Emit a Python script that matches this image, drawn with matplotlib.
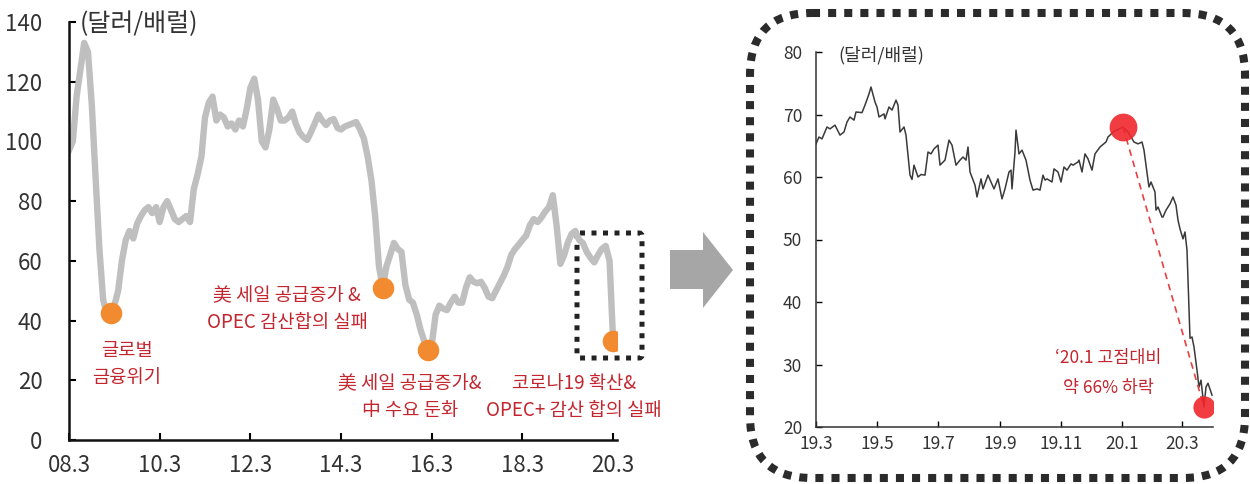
import numpy as np
import pandas as pd
import matplotlib
matplotlib.use('Agg')
import matplotlib.pyplot as plt
from matplotlib.patches import FancyBboxPatch, Polygon

plt.rcParams['font.family'] = ['Noto Sans CJK KR', 'DejaVu Sans']

# monthly crude price 2008.3 ~ 2020.3, 달러/배럴
long_start = '2008-03-01'
long_price = [97, 100, 115, 124, 133, 130, 112, 88, 64, 47,
              42, 42.5, 45, 50, 60, 67, 70, 67.5, 72.5, 75,
              77, 78, 76, 78, 73, 78, 80, 77, 74, 73,
              74, 75, 73, 84, 89, 95, 108, 113, 115, 107,
              109, 108, 105, 106, 104, 107, 105, 111, 118, 121,
              114, 100, 98, 104, 114, 111, 107, 107, 108, 110,
              106, 103, 101.5, 100.5, 103, 106, 109, 107, 105.5, 107,
              107.5, 104.5, 104, 105, 105.5, 106, 106.5, 104, 101, 95,
              87, 75, 58, 51, 58, 62, 66, 64, 63, 52,
              47, 46, 42, 37, 33, 30, 32, 42, 45, 44,
              43.5, 46, 48, 46, 46, 51, 54.5, 53, 52.5, 53,
              51, 48, 47.5, 50, 52.5, 55, 58, 62, 64, 65.5,
              67, 68.5, 72, 74, 73, 74.5, 76.5, 78, 82, 72,
              59, 62, 66, 69, 70, 67, 66, 63, 61, 59.5,
              62, 64, 65, 60, 33]
long_ticks = ['08.3', '10.3', '12.3', '14.3', '16.3', '18.3', '20.3']
event_idx = [11, 83, 95, 144]
event_text = ['글로벌\n금융위기',
              '美 세일 공급증가 &\nOPEC 감산합의 실패',
              '美 세일 공급증가&\n中 수요 둔화',
              '코로나19 확산&\nOPEC+ 감산 합의 실패']

# daily price 2019.3 ~ 2020.3
short_dates = ['2019-03-01', '2019-03-04', '2019-03-07', '2019-03-12', '2019-03-15',
               '2019-03-20', '2019-03-25', '2019-03-29', '2019-04-01', '2019-04-04',
               '2019-04-08', '2019-04-10', '2019-04-16', '2019-04-19', '2019-04-23',
               '2019-04-25', '2019-04-29', '2019-05-01', '2019-05-03', '2019-05-08',
               '2019-05-09', '2019-05-13', '2019-05-16', '2019-05-20', '2019-05-22',
               '2019-05-24', '2019-05-28', '2019-05-30', '2019-06-03', '2019-06-05',
               '2019-06-07', '2019-06-11', '2019-06-14', '2019-06-18', '2019-06-21',
               '2019-06-24', '2019-06-27', '2019-07-01', '2019-07-03', '2019-07-08',
               '2019-07-10', '2019-07-12', '2019-07-15', '2019-07-19', '2019-07-23',
               '2019-07-26', '2019-07-29', '2019-07-31', '2019-08-02', '2019-08-07',
               '2019-08-09', '2019-08-13', '2019-08-15', '2019-08-20', '2019-08-23',
               '2019-08-26', '2019-08-30', '2019-09-03', '2019-09-06', '2019-09-10',
               '2019-09-12', '2019-09-13', '2019-09-16', '2019-09-17', '2019-09-20',
               '2019-09-23', '2019-09-27', '2019-10-01', '2019-10-04', '2019-10-08',
               '2019-10-11', '2019-10-14', '2019-10-16', '2019-10-18', '2019-10-23',
               '2019-10-25', '2019-10-29', '2019-11-01', '2019-11-04', '2019-11-07',
               '2019-11-11', '2019-11-13', '2019-11-18', '2019-11-19', '2019-11-22',
               '2019-11-25', '2019-11-28', '2019-12-02', '2019-12-05', '2019-12-10',
               '2019-12-16', '2019-12-18', '2019-12-24', '2020-01-02', '2020-01-07',
               '2020-01-13', '2020-01-17', '2020-01-21', '2020-01-23', '2020-01-27',
               '2020-01-28', '2020-01-30', '2020-02-03', '2020-02-04', '2020-02-06',
               '2020-02-10', '2020-02-11', '2020-02-14', '2020-02-18', '2020-02-21',
               '2020-02-24', '2020-02-26', '2020-02-28', '2020-03-02', '2020-03-04',
               '2020-03-06', '2020-03-09', '2020-03-11', '2020-03-13', '2020-03-16',
               '2020-03-18', '2020-03-20', '2020-03-23', '2020-03-25', '2020-03-27',
               '2020-03-31']
short_price = [65.3, 66.4, 66.1, 68.0, 67.7, 68.3, 66.7, 67.2, 68.8, 69.6,
               69.1, 70.4, 70.3, 71.5, 73.3, 74.4, 72.0, 71.2, 69.6, 70.1,
               69.3, 71.2, 70.7, 72.3, 71.5, 67.2, 68.0, 66.7, 60.3, 59.6,
               61.9, 60.0, 60.4, 60.3, 64.0, 63.7, 64.5, 65.1, 61.9, 62.7,
               64.3, 65.9, 65.1, 61.9, 62.7, 63.2, 62.7, 64.8, 60.8, 58.7,
               56.8, 59.7, 58.1, 60.3, 59.2, 58.1, 59.7, 56.5, 58.1, 60.8,
               61.1, 58.1, 64.0, 67.5, 63.7, 64.3, 62.7, 59.5, 57.9, 58.1,
               57.9, 60.3, 59.5, 59.7, 59.2, 61.3, 60.8, 59.2, 61.6, 61.1,
               62.1, 61.9, 62.4, 62.7, 60.8, 63.7, 62.9, 61.1, 63.7, 64.8,
               65.6, 66.4, 67.3, 68.0, 67.2, 65.6, 65.3, 65.6, 64.3, 59.5,
               58.4, 59.2, 57.6, 54.7, 55.2, 53.6, 53.6, 54.7, 55.7, 56.8,
               55.5, 53.1, 51.7, 50.1, 51.2, 48.3, 34.2, 34.4, 32.8, 29.1,
               26.4, 27.5, 23.2, 26.4, 27.0, 25.1]
short_ticks = ['19.3', '19.5', '19.7', '19.9', '19.11', '20.1', '20.3']
peak_date = '2020-01-02'
trough_date = '2020-03-23'

red_txt = '#C3262E'
fig = plt.figure(figsize=(12.5, 4.84), dpi=100)

# pixel-space layer for boxes, arrow and notes
ov = fig.add_axes([0, 0, 1, 1], zorder=0)
ov.set_xlim(0, 1250)
ov.set_ylim(484, 0)
ov.axis('off')

# ---- left: long history ----
ax = fig.add_axes([69/1250, 1-440/484, 548/1250, 418/484], zorder=1)
ax.patch.set_visible(False)
ldates = pd.date_range(long_start, periods=len(long_price), freq='MS')
lp = np.array(long_price)
ax.plot(ldates, lp, color='#BFBFBF', lw=4.6, solid_joinstyle='round', zorder=2)
ev = np.array(event_idx)
ax.plot(ldates[ev], lp[ev], 'o', color='#F28A30', ms=15.5, mec='none', zorder=3)
ax.set_ylim(0, 140)
ax.set_yticks(range(0, 141, 20))
ax.set_xlim(pd.Timestamp(long_start), pd.Timestamp('2020-04-01'))
ax.set_xticks(pd.date_range(long_start, '2020-03-01', freq='24MS'))
ax.set_xticklabels(long_ticks)
for s in ['top', 'right']:
    ax.spines[s].set_visible(False)
for s in ['left', 'bottom']:
    ax.spines[s].set_linewidth(1.8)
    ax.spines[s].set_color('#111111')
ax.tick_params(axis='y', direction='in', length=5, width=1.5, pad=19, labelsize=16, labelcolor='#333333')
ax.tick_params(axis='x', direction='in', length=5, width=1.5, pad=10, labelsize=16, labelcolor='#333333')
ov.text(80, 24, '(달러/배럴)', fontsize=18, color='#333333', va='center', ha='left')

note_xy = [(127, 364), (287, 309), (410, 397), (574, 397)]
for (tx, ty), t in zip(note_xy, event_text):
    ov.text(tx, ty, t, fontsize=13.5, color=red_txt, ha='center', va='center', linespacing=1.35)

# dotted frame round the last year
ov.add_patch(FancyBboxPatch((577, 233), 65, 125, boxstyle='round,pad=0,rounding_size=3',
                            fill=False, ec='#222222', lw=3.6, ls=(0, (1, 1.3))))

# arrow
ov.add_patch(Polygon([(670, 250), (703, 250), (703, 232), (733, 270), (703, 308),
                      (703, 289), (670, 289)], closed=True, fc='#A6A6A6', ec='none'))

# dashed rounded frame for the zoomed view
ov.add_patch(FancyBboxPatch((750, 13), 495, 465, boxstyle='round,pad=0,rounding_size=62',
                            fill=False, ec='#2B2B2B', lw=5.8, ls=(0, (1, 1))))

# ---- right: last year, daily ----
ax2 = fig.add_axes([816/1250, 1-427/484, 397/1250, 375/484], zorder=1)
ax2.patch.set_visible(False)
sd = pd.to_datetime(short_dates)
sp = np.array(short_price)
ax2.plot(sd, sp, color='#3A3A3A', lw=1.1, zorder=2)
pk = short_dates.index(peak_date)
tr = short_dates.index(trough_date)
ax2.plot([sd[pk], sd[tr]], [sp[pk], sp[tr]], ls=(0, (4, 3)), color='#E8403F', lw=1.2, zorder=3)
ax2.plot(sd[pk], sp[pk], 'o', color='#F0282D', ms=20, alpha=0.9, mec='none', zorder=4)
ax2.plot(sd[tr], sp[tr], 'o', color='#F0282D', ms=16, alpha=0.9, mec='none', zorder=4)
ax2.set_ylim(20, 80)
ax2.set_yticks(range(20, 81, 10))
ax2.set_xlim(pd.Timestamp('2019-03-01'), pd.Timestamp('2020-04-01'))
ax2.set_xticks(pd.date_range('2019-03-01', '2020-03-01', freq='2MS'))
ax2.set_xticklabels(short_ticks)
for s in ['top', 'right']:
    ax2.spines[s].set_visible(False)
for s in ['left', 'bottom']:
    ax2.spines[s].set_linewidth(1.1)
    ax2.spines[s].set_color('#333333')
ax2.tick_params(axis='y', direction='in', length=4, width=1, pad=10, labelsize=12.5, labelcolor='#333333')
ax2.tick_params(axis='x', direction='in', length=4, width=1, pad=6, labelsize=12.5, labelcolor='#333333')
ov.text(838, 55, '(달러/배럴)', fontsize=13, color='#333333', va='center', ha='left')
ov.text(1108, 373, '‘20.1 고점대비\n약 66% 하락', fontsize=12.5, color=red_txt,
        ha='center', va='center', linespacing=1.85)

fig.savefig('out.png', dpi=100)
